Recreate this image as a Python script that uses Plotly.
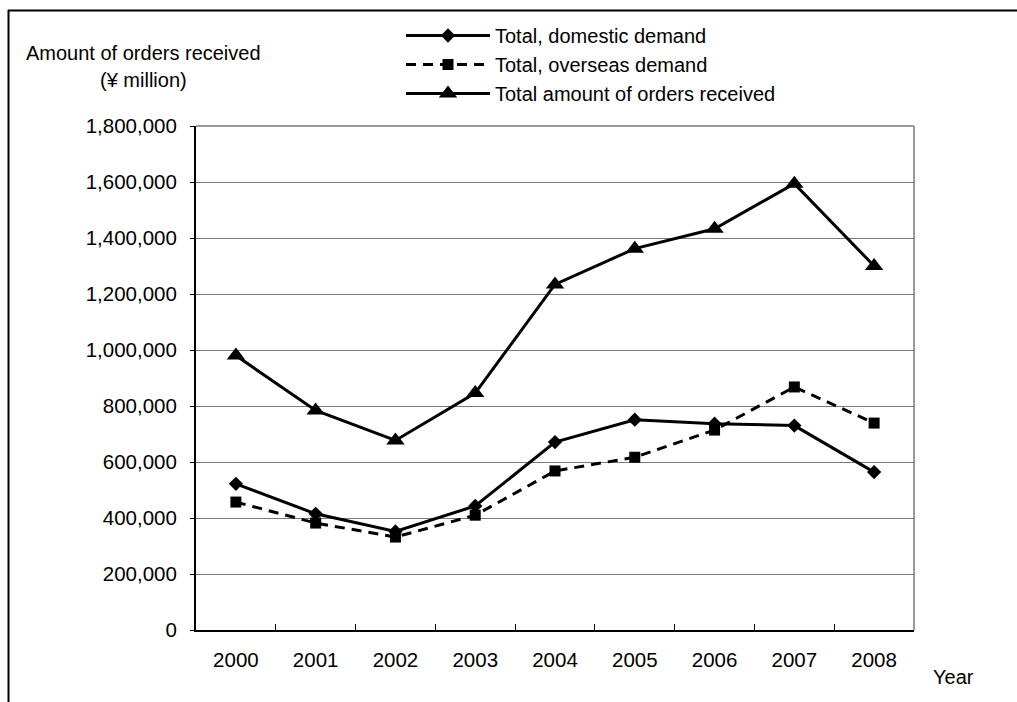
import plotly.graph_objects as go

# Orders received by year (¥ million)
years = ["2000", "2001", "2002", "2003", "2004", "2005", "2006", "2007", "2008"]
domestic = [522000, 415000, 352000, 443000, 671000, 751000, 737000, 730000, 564000]
overseas = [457000, 382000, 332000, 410000, 568000, 617000, 714000, 868000, 739000]
total = [980000, 784000, 677000, 846000, 1234000, 1362000, 1433000, 1594000, 1300000]

y_ticks = list(range(0, 1800001, 200000))

W, H = 1017, 702
L, R, T, B = 196, 914, 126, 630  # plot area edges in px
FONT = "Arial, Liberation Sans, sans-serif"
FS = 20
TICK_FS = 20.5


def px_x(px):
    return (px - L) / (R - L)


def px_y(py):
    return (B - py) / (B - T)


fig = go.Figure()
fig.add_trace(go.Scatter(
    x=years, y=domestic, name="Total, domestic demand", mode="lines+markers",
    line=dict(color="black", width=3),
    marker=dict(symbol="diamond", size=11, color="black"),
))
fig.add_trace(go.Scatter(
    x=years, y=overseas, name="Total, overseas demand", mode="lines+markers",
    line=dict(color="black", width=3, dash="10px,7px"),
    marker=dict(symbol="square", size=11, color="black"),
))
fig.add_trace(go.Scatter(
    x=years, y=total, name="Total amount of orders received", mode="lines+markers",
    line=dict(color="black", width=3),
    marker=dict(symbol="triangle-up", size=16, color="black"),
))

shapes = [
    # grey frame on the top and right of the plot area
    dict(type="line", xref="paper", yref="paper", x0=0, x1=1, y0=1, y1=1,
         line=dict(color="#9a9a9a", width=2), layer="below"),
    dict(type="line", xref="paper", yref="paper", x0=1, x1=1, y0=0, y1=1,
         line=dict(color="#9a9a9a", width=2), layer="below"),
    # outer border of the chart box
    dict(type="line", xref="paper", yref="paper", x0=px_x(8), x1=px_x(W + 5),
         y0=px_y(10.5), y1=px_y(10.5), line=dict(color="black", width=2)),
    dict(type="line", xref="paper", yref="paper", x0=px_x(8.5), x1=px_x(8.5),
         y0=px_y(10), y1=px_y(H + 5), line=dict(color="black", width=2)),
]

annotations = [
    dict(text="Amount of orders received", x=px_x(143), y=px_y(53),
         xref="paper", yref="paper", showarrow=False, xanchor="center", yanchor="middle",
         font=dict(family=FONT, size=FS, color="black")),
    dict(text="(¥ million)", x=px_x(143), y=px_y(80),
         xref="paper", yref="paper", showarrow=False, xanchor="center", yanchor="middle",
         font=dict(family=FONT, size=FS, color="black")),
    dict(text="Year", x=px_x(953), y=px_y(677),
         xref="paper", yref="paper", showarrow=False, xanchor="center", yanchor="middle",
         font=dict(family=FONT, size=FS, color="black")),
]

fig.update_layout(
    width=W, height=H,
    margin=dict(l=L, r=W - R, t=T, b=H - B, pad=0),
    paper_bgcolor="white", plot_bgcolor="white",
    font=dict(family=FONT, size=FS, color="black"),
    showlegend=True,
    legend=dict(
        x=px_x(401), y=px_y(16), xanchor="left", yanchor="top",
        bgcolor="rgba(0,0,0,0)", font=dict(family=FONT, size=FS, color="black"),
        tracegroupgap=0, itemwidth=84,
    ),
    shapes=shapes,
    annotations=annotations,
    xaxis=dict(
        type="category", categoryorder="array", categoryarray=years,
        range=[-0.5, len(years) - 0.5],
        showline=True, linecolor="black", linewidth=2,
        ticks="inside", tickson="boundaries", ticklen=6, tickcolor="black", tickwidth=1,
        showgrid=False, zeroline=False, ticklabelstandoff=10,
        tickfont=dict(family=FONT, size=TICK_FS, color="black"),
    ),
    yaxis=dict(
        range=[0, 1800000], tickvals=y_ticks, tickformat=",",
        showline=True, linecolor="black", linewidth=2,
        ticks="outside", ticklen=4, tickcolor="black",
        showgrid=True, gridcolor="#7a7a7a", gridwidth=1, zeroline=False,
        ticklabelstandoff=9,
        tickfont=dict(family=FONT, size=TICK_FS, color="black"),
    ),
)

fig.write_html("out.html")
